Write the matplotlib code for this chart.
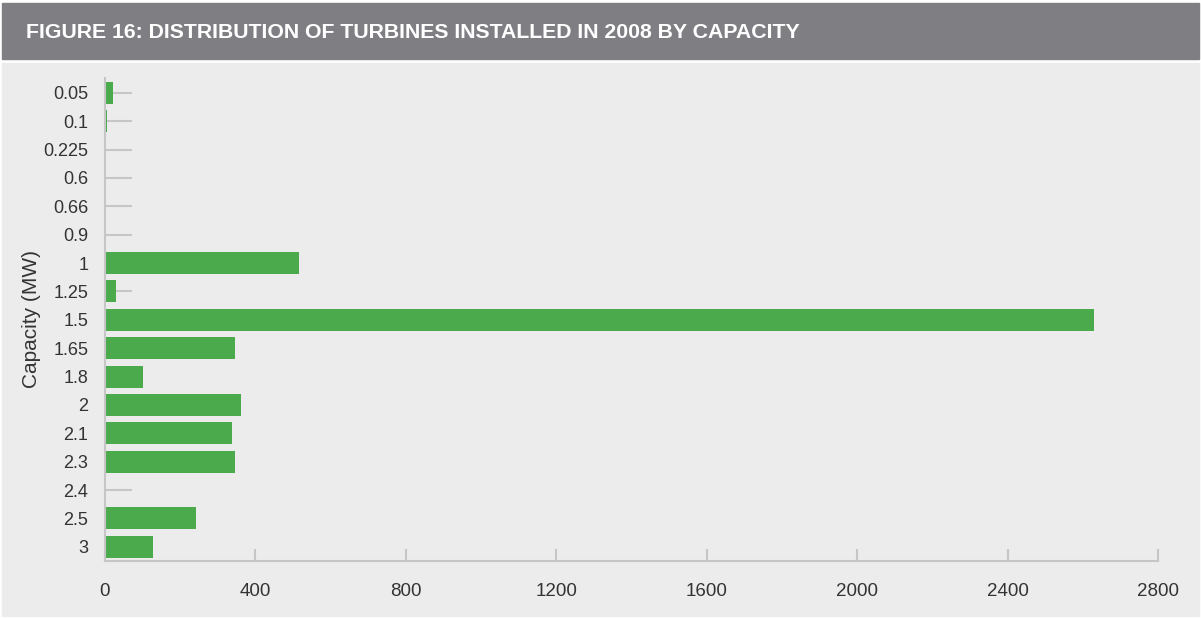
import matplotlib.pyplot as plt
from matplotlib.patches import Rectangle

# capacity classes (MW) and number of turbines installed in 2008
capacities = ['0.05', '0.1', '0.225', '0.6', '0.66', '0.9', '1', '1.25', '1.5',
              '1.65', '1.8', '2', '2.1', '2.3', '2.4', '2.5', '3']
turbines = [20, 6, 2, 2, 2, 2, 515, 28, 2630, 345, 101, 361, 337, 345, 2, 242, 127]
x_ticks = [0, 400, 800, 1200, 1600, 2000, 2400, 2800]

title = 'FIGURE 16: DISTRIBUTION OF TURBINES INSTALLED IN 2008 BY CAPACITY'

W, H = 1201, 619
plt.rcParams['font.family'] = ['Liberation Sans', 'DejaVu Sans']
fig = plt.figure(figsize=(W / 100, H / 100), dpi=100, facecolor='white')

# header band and light panel behind the chart
fig.patches.append(Rectangle((2 / W, 1 - 59 / H), 1197 / W, 56 / H,
                             transform=fig.transFigure, color='#7f7e83', zorder=-10))
fig.patches.append(Rectangle((2 / W, 1 - 616 / H), 1197 / W, 553 / H,
                             transform=fig.transFigure, color='#ececec', zorder=-10))
fig.text(26 / W, 1 - 33 / H, title, color='white', fontsize=15.3, fontweight='bold',
         ha='left', va='center')

ax = fig.add_axes([105 / W, 1 - 561 / H, 1053 / W, 483 / H])
ax.set_facecolor('none')
ax.set_axisbelow(True)

pos = list(range(len(capacities)))
ax.barh(pos, turbines, height=0.775, color='#4baa4b', zorder=2)

ax.set_ylim(len(capacities) - 0.5, -0.52)
ax.set_yticks(pos)
ax.set_yticklabels(capacities)
ax.set_xlim(0, 2800)
ax.set_xticks(x_ticks)
ax.set_xticklabels([str(v) for v in x_ticks])

grey = '#c6c6c6'
for side in ['top', 'right']:
    ax.spines[side].set_visible(False)
for side in ['left', 'bottom']:
    ax.spines[side].set_color(grey)
    ax.spines[side].set_linewidth(1.5)

ax.tick_params(axis='y', direction='in', length=19.5, width=1.5, color=grey,
               pad=12, labelsize=13, labelcolor='#333333')
ax.tick_params(axis='x', direction='in', length=9, width=1.5, color=grey,
               pad=16, labelsize=13.5, labelcolor='#333333')

ax.set_ylabel('Capacity (MW)', fontsize=15, color='#333333', labelpad=2)

fig.savefig('out.png', dpi=100, facecolor='white')
